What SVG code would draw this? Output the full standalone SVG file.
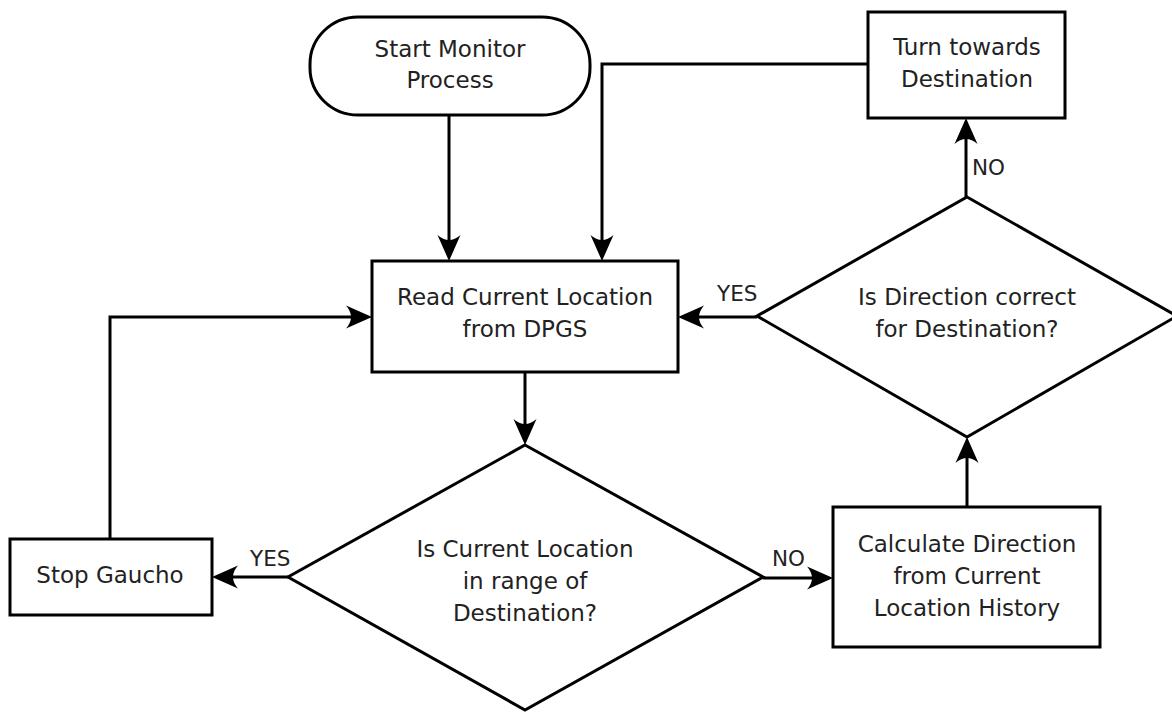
<svg xmlns="http://www.w3.org/2000/svg" width="1172" height="713" viewBox="0 0 1172 713">
<style>
.shape{fill:#fff;stroke:#000;stroke-width:3}
.conn{fill:none;stroke:#000;stroke-width:3}
text{font-family:"DejaVu Sans","Liberation Sans",sans-serif;font-size:23px;fill:#222;text-anchor:middle}
.lbl{font-size:21.5px;text-anchor:start}
</style>
<defs>
<marker id="arr" markerUnits="userSpaceOnUse" viewBox="0 0 26 24" markerWidth="26" markerHeight="24" refX="16" refY="12" orient="auto">
<path d="M0,0.5 L26,12 L0,23.5 Q10,12 0,0.5 Z" fill="#000"/>
</marker>
</defs>
<rect width="1172" height="713" fill="#fff"/>
<g id="connectors">
<path class="conn" d="M449,115 V251" marker-end="url(#arr)"/>
<path class="conn" d="M868,64 H602 V251" marker-end="url(#arr)"/>
<path class="conn" d="M757,317 H688" marker-end="url(#arr)"/>
<path class="conn" d="M525,372 V435" marker-end="url(#arr)"/>
<path class="conn" d="M110,539 V317 H362" marker-end="url(#arr)"/>
<path class="conn" d="M288,577 H222" marker-end="url(#arr)"/>
<path class="conn" d="M763,578 H823" marker-end="url(#arr)"/>
<path class="conn" d="M967,507 V447" marker-end="url(#arr)"/>
<path class="conn" d="M966,197 V128" marker-end="url(#arr)"/>
<text class="lbl" x="717" y="301">YES</text>
<text class="lbl" x="250" y="566">YES</text>
<text class="lbl" x="772" y="566">NO</text>
<text class="lbl" x="972" y="175">NO</text>
</g>
<g id="start">
<rect class="shape" x="310" y="17" width="280" height="98" rx="48" ry="47"/>
<text x="450" y="57">Start Monitor</text>
<text x="450" y="88">Process</text>
</g>
<g id="turn">
<rect class="shape" x="868" y="12" width="197" height="106"/>
<text x="967" y="55">Turn towards</text>
<text x="967" y="87">Destination</text>
</g>
<g id="read">
<rect class="shape" x="372" y="261" width="306" height="111"/>
<text x="525" y="305">Read Current Location</text>
<text x="525" y="337">from DPGS</text>
</g>
<g id="dircheck">
<polygon class="shape" points="967,197 1177,316 967,437 757,316"/>
<text x="967" y="305">Is Direction correct</text>
<text x="967" y="337">for Destination?</text>
</g>
<g id="rangecheck">
<polygon class="shape" points="525,445 763,577 525,710 288,577"/>
<text x="525" y="557">Is Current Location</text>
<text x="525" y="589">in range of</text>
<text x="525" y="621">Destination?</text>
</g>
<g id="stop">
<rect class="shape" x="10" y="539" width="202" height="76"/>
<text x="110" y="583">Stop Gaucho</text>
</g>
<g id="calc">
<rect class="shape" x="833" y="507" width="267" height="140"/>
<text x="967" y="552">Calculate Direction</text>
<text x="967" y="584">from Current</text>
<text x="967" y="616">Location History</text>
</g>
</svg>
